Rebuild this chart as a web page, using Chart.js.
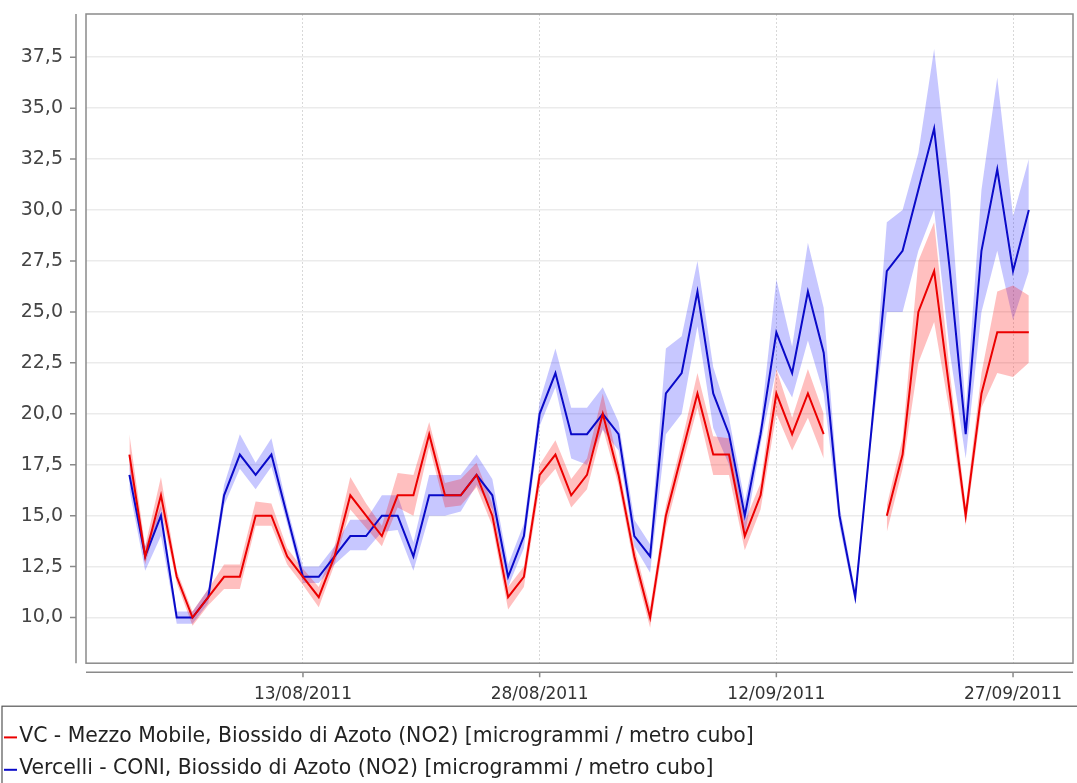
<!DOCTYPE html>
<html>
<head>
<meta charset="utf-8">
<script src="https://cdn.jsdelivr.net/npm/chart.js@4.4.1/dist/chart.umd.min.js"></script>
<style>
  html, body { margin: 0; padding: 0; background: #fff; }
</style>
</head>
<body>
<canvas id="no2-chart" width="1077" height="783"></canvas>
<script>
// daily values, 02/08/2011 .. 28/09/2011
var dates = [
  "02/08/2011", "03/08/2011", "04/08/2011", "05/08/2011", "06/08/2011", "07/08/2011", "08/08/2011",
  "09/08/2011", "10/08/2011", "11/08/2011", "12/08/2011", "13/08/2011", "14/08/2011", "15/08/2011",
  "16/08/2011", "17/08/2011", "18/08/2011", "19/08/2011", "20/08/2011", "21/08/2011", "22/08/2011",
  "23/08/2011", "24/08/2011", "25/08/2011", "26/08/2011", "27/08/2011", "28/08/2011", "29/08/2011",
  "30/08/2011", "31/08/2011", "01/09/2011", "02/09/2011", "03/09/2011", "04/09/2011", "05/09/2011",
  "06/09/2011", "07/09/2011", "08/09/2011", "09/09/2011", "10/09/2011", "11/09/2011", "12/09/2011",
  "13/09/2011", "14/09/2011", "15/09/2011", "16/09/2011", "17/09/2011", "18/09/2011", "19/09/2011",
  "20/09/2011", "21/09/2011", "22/09/2011", "23/09/2011", "24/09/2011", "25/09/2011", "26/09/2011",
  "27/09/2011", "28/09/2011"
];

var mobile = [18, 13, 16, 12, 10, 11, 12, 12, 15, 15, 13,
  12, 11, 13, 16, 15, 14, 16, 16, 19, 16, 16,
  17, 15, 11, 12, 17, 18, 16, 17, 20, 17, 13,
  10, 15, 18, 21, 18, 18, 14, 16, 21, 19, 21,
  19, null, null, null, 15, 18, 25, 27, 21, 15, 21, 24, 24, 24];
var mobileMin = [17.3, 12.6, 15.3, 11.7, 9.6, 10.6, 11.4, 11.4, 14.5, 14.5, 12.6,
  11.6, 10.5, 12.6, 15.3, 14.4, 13.5, 15.4, 15, 18.4, 15.4, 15.5,
  16.4, 14.5, 10.4, 11.5, 16.4, 17.3, 15.4, 16.3, 19.3, 16.5, 12.5,
  9.5, 14.4, 17.4, 20.3, 17, 17, 13.3, 15.3, 20, 18.2, 19.8,
  17.8, null, null, null, 14.2, 17.3, 22.5, 24.5, 20, 14.5, 20.3, 22, 21.8, 22.5];
var mobileMax = [19, 13.5, 16.9, 12.3, 10.3, 11.4, 12.6, 12.6, 15.7, 15.6, 13.4,
  12.4, 11.5, 13.5, 16.9, 15.6, 14.5, 17.1, 17, 19.6, 16.6, 16.8,
  17.6, 15.6, 11.5, 12.5, 17.5, 18.7, 16.8, 17.8, 21, 17.5, 13.5,
  10.5, 15.5, 18.6, 22, 18.9, 18.8, 14.7, 16.6, 22.2, 19.8, 22.2,
  20, null, null, null, 15.5, 18.8, 27.5, 29.4, 22, 15.5, 22, 26, 26.3, 25.8];

var coni = [17, 13, 15, 10, 10, 11, 16, 18, 17, 18, 15,
  12, 12, 13, 14, 14, 15, 15, 13, 16, 16, 16,
  17, 16, 12, 14, 20, 22, 19, 19, 20, 19, 14,
  13, 21, 22, 26, 21, 19, 15, 19, 24, 22, 26,
  23, 15, 11, 19, 27, 28, 31, 34, 27, 19, 28, 32, 27, 30];
var coniMin = [16.3, 12.3, 14, 9.7, 9.7, 10.7, 15.5, 17.3, 16.3, 17.4, 14.6,
  11.7, 11.7, 12.6, 13.3, 13.3, 14.2, 14.3, 12.3, 15, 15, 15.2,
  16.5, 15.3, 11.5, 13.4, 19.4, 21.3, 17.8, 17.5, 19.2, 18.2, 13.5,
  12.2, 19, 20, 24.3, 19.3, 17.5, 14, 18.5, 22.2, 20.8, 23.6,
  21, 14.5, 10.7, 18.6, 25, 25, 28, 30, 23, 17.8, 25, 28, 24.6, 27];
var coniMax = [17.7, 13.5, 15.5, 10.3, 10.3, 11.4, 16.5, 19, 17.6, 18.8, 15.4,
  12.5, 12.5, 13.5, 14.8, 14.8, 16, 16, 13.7, 17, 17, 17,
  18, 16.8, 12.6, 14.6, 20.6, 23.2, 20.3, 20.3, 21.3, 19.6, 14.8,
  13.6, 23.2, 23.8, 27.5, 22.3, 19.8, 15.7, 19.5, 26.6, 23.3, 28.4,
  25.2, 15.5, 11.3, 19.4, 29.4, 30, 32.8, 37.9, 31, 20.2, 31, 36.5, 29.7, 32.5];

var seriesNames = [
  "VC - Mezzo Mobile, Biossido di Azoto (NO2) [microgrammi / metro cubo]",
  "Vercelli - CONI, Biossido di Azoto (NO2) [microgrammi / metro cubo]"
];
var xTickLabels = ["13/08/2011", "28/08/2011", "12/09/2011", "27/09/2011"];
var yTicks = [10, 12.5, 15, 17.5, 20, 22.5, 25, 27.5, 30, 32.5, 35, 37.5];

var RED = "rgb(235,0,0)";
var BLUE = "rgb(10,10,200)";
var AXIS_GREY = "#8a8a8a";

function pts(arr) {
  return arr.map(function(v, i) { return { x: i, y: v }; });
}

function band(arr, color, target) {
  return {
    data: pts(arr),
    borderWidth: 0,
    borderColor: "transparent",
    backgroundColor: color,
    pointRadius: 0,
    tension: 0,
    fill: target,
    order: 2
  };
}

// plot frame, offset axis lines, legend swatches and legend box (JFreeChart look)
var framePlugin = {
  id: "frame",
  afterDatasetsDraw: function(chart) {
    var a = chart.chartArea, ctx = chart.ctx;
    ctx.save();
    ctx.strokeStyle = AXIS_GREY;
    ctx.lineWidth = 1.5;
    ctx.strokeRect(a.left, a.top, a.right - a.left, a.bottom - a.top);
    ctx.restore();
  },
  afterDraw: function(chart) {
    var a = chart.chartArea, ctx = chart.ctx;
    var xs = chart.scales.x, ys = chart.scales.y;
    ctx.save();
    ctx.strokeStyle = AXIS_GREY;
    ctx.lineWidth = 1.5;
    ctx.beginPath();
    ctx.moveTo(a.left - 10, a.top);
    ctx.lineTo(a.left - 10, a.bottom);
    ctx.moveTo(a.left, a.bottom + 9);
    ctx.lineTo(a.right, a.bottom + 9);
    ys.ticks.forEach(function(t) {
      var y = ys.getPixelForValue(t.value);
      ctx.moveTo(a.left - 16, y);
      ctx.lineTo(a.left - 10, y);
    });
    xs.ticks.forEach(function(t) {
      var x = xs.getPixelForValue(t.value);
      ctx.moveTo(x, a.bottom + 9);
      ctx.lineTo(x, a.bottom + 14);
    });
    ctx.stroke();

    var lg = chart.legend;
    lg.legendItems.forEach(function(item, i) {
      var hb = lg.legendHitBoxes[i];
      var y = hb.top + hb.height / 2 + 1;
      ctx.strokeStyle = item.strokeStyle;
      ctx.lineWidth = 2;
      ctx.beginPath();
      ctx.moveTo(4, y);
      ctx.lineTo(17, y);
      ctx.stroke();
    });
    ctx.strokeStyle = "#555";
    ctx.lineWidth = 1.2;
    ctx.strokeRect(2, lg.top - 8, chart.width + 10, lg.height + 20);
    ctx.restore();
  }
};

Chart.defaults.font.family = "'DejaVu Sans', sans-serif";
Chart.defaults.color = "#444";

var ctx = document.getElementById("no2-chart").getContext("2d");
var myChart = new Chart(ctx, {
  type: "line",
  data: {
    datasets: [
      {
        label: seriesNames[0],
        data: pts(mobile),
        borderColor: RED,
        backgroundColor: RED,
        borderWidth: 2,
        pointRadius: 0,
        tension: 0,
        fill: false,
        order: 1
      },
      {
        label: seriesNames[1],
        data: pts(coni),
        borderColor: BLUE,
        backgroundColor: BLUE,
        borderWidth: 2,
        pointRadius: 0,
        tension: 0,
        fill: false,
        order: 1
      },
      band(mobileMax, "rgba(255,0,0,0.25)", 3),
      band(mobileMin, "rgba(255,0,0,0)", false),
      band(coniMax, "rgba(0,0,255,0.22)", 5),
      band(coniMin, "rgba(0,0,255,0)", false)
    ]
  },
  options: {
    responsive: false,
    animation: false,
    spanGaps: false,
    layout: { padding: { left: -3, right: 4, top: 14, bottom: -6 } },
    plugins: {
      tooltip: { enabled: false },
      legend: {
        position: "bottom",
        align: "start",
        labels: {
          color: "#222",
          font: { size: 20.4 },
          boxWidth: 0,
          boxHeight: 2,
          padding: 12,
          generateLabels: function(chart) {
            return Chart.defaults.plugins.legend.labels.generateLabels(chart)
              .filter(function(item) { return item.datasetIndex < 2; })
              .map(function(item) { item.lineWidth = 0; return item; });
          }
        }
      }
    },
    scales: {
      x: {
        type: "linear",
        min: -2.75,
        max: 59.8,
        afterBuildTicks: function(axis) {
          axis.ticks = xTickLabels.map(function(l) { return { value: dates.indexOf(l) }; });
        },
        afterFit: function(axis) { axis.height = 51; },
        ticks: {
          padding: 0,
          maxRotation: 0,
          font: { size: 17 },
          color: "#333",
          callback: function(v) { return dates[v]; }
        },
        grid: { color: "#d8d8d8", lineWidth: 1, drawTicks: true, tickLength: 21, tickColor: "rgba(0,0,0,0)" },
        border: { display: false, dash: [2, 2] }
      },
      y: {
        min: 7.76,
        max: 39.62,
        afterBuildTicks: function(axis) {
          axis.ticks = yTicks.map(function(v) { return { value: v }; });
        },
        afterFit: function(axis) { axis.width = 89; },
        ticks: {
          padding: 0,
          font: { size: 19 },
          color: "#444",
          callback: function(v) { return v.toFixed(1).replace(".", ","); }
        },
        grid: { color: "#ebebeb", lineWidth: 1.5, drawTicks: true, tickLength: 23, tickColor: "rgba(0,0,0,0)" },
        border: { display: false }
      }
    }
  },
  plugins: [framePlugin]
});
</script>
</body>
</html>
